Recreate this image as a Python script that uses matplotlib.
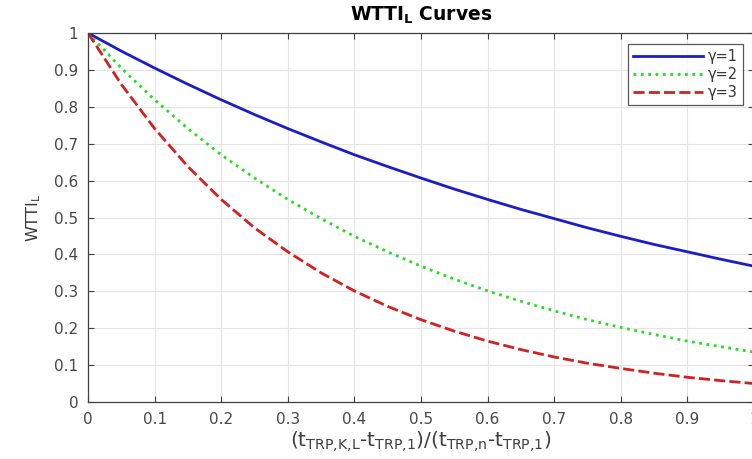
import matplotlib
matplotlib.use("Agg")
import matplotlib.pyplot as plt
from matplotlib.ticker import FixedLocator, FuncFormatter

plt.rcParams['font.family'] = ['DejaVu Sans']
plt.rcParams['mathtext.fontset'] = 'dejavusans'

x_vals = [0.00, 0.05, 0.10, 0.15, 0.20, 0.25, 0.30, 0.35, 0.40, 0.45, 0.50,
          0.55, 0.60, 0.65, 0.70, 0.75, 0.80, 0.85, 0.90, 0.95, 1.00]
gamma1 = [1.00, 0.951, 0.905, 0.861, 0.819, 0.779, 0.741, 0.705, 0.670, 0.638, 0.607,
          0.577, 0.549, 0.522, 0.497, 0.472, 0.449, 0.427, 0.407, 0.387, 0.368]
gamma2 = [1.00, 0.905, 0.819, 0.741, 0.670, 0.607, 0.549, 0.497, 0.449, 0.407, 0.368,
          0.333, 0.301, 0.273, 0.247, 0.223, 0.202, 0.183, 0.165, 0.150, 0.135]
gamma3 = [1.00, 0.861, 0.741, 0.638, 0.549, 0.472, 0.407, 0.350, 0.301, 0.259, 0.223,
          0.192, 0.165, 0.142, 0.122, 0.105, 0.091, 0.078, 0.067, 0.058, 0.050]
series_labels = ['γ=1', 'γ=2', 'γ=3']
x_ticks = [0, 0.1, 0.2, 0.3, 0.4, 0.5, 0.6, 0.7, 0.8, 0.9, 1.0]
y_ticks = [0, 0.1, 0.2, 0.3, 0.4, 0.5, 0.6, 0.7, 0.8, 0.9, 1.0]

fig = plt.figure(figsize=(7.52, 4.59), dpi=100)
ax = fig.add_axes([88/752, 1-402/459, (754-88)/752, (402-33)/459])

ax.plot(x_vals, gamma1, color='#1c1cc8', lw=2.0, ls='-', label=series_labels[0])
ax.plot(x_vals, gamma2, color='#22dd22', lw=2.0, ls=':', label=series_labels[1])
ax.plot(x_vals, gamma3, color='#d42020', lw=2.0, ls='--', dashes=(4, 1.5), label=series_labels[2])

ax.set_xlim(0, 1)
ax.set_ylim(0, 1)
ax.xaxis.set_major_locator(FixedLocator(x_ticks))
ax.yaxis.set_major_locator(FixedLocator(y_ticks))
fmt = FuncFormatter(lambda v, p: '%g' % round(v, 2))
ax.xaxis.set_major_formatter(fmt)
ax.yaxis.set_major_formatter(fmt)
ax.tick_params(direction='in', top=True, right=True, length=4, width=0.8,
               labelsize=11, colors='#404040', labelcolor='#484848', pad=7)
for s in ax.spines.values():
    s.set_color('#404040')
    s.set_linewidth(0.9)
ax.grid(True, color='#e4e4e4', lw=0.8)
ax.set_axisbelow(True)

ax.set_title(r'WTTI$_\mathbf{L}$ Curves', fontsize=13.5, fontweight='bold', pad=9)
hy = '\u2010'
xlab = (r'$(\mathrm{t}_{\mathrm{TRP{,}K{,}L}}\mathrm{' + hy + r't}_{\mathrm{TRP{,}1}})\mathrm{/(t}_{\mathrm{TRP{,}n}}\mathrm{'
        + hy + r't}_{\mathrm{TRP{,}1}})$')
ax.set_xlabel(xlab, fontsize=14.5, color='#404040', labelpad=2)
ax.set_ylabel(r'WTTI$_\mathrm{L}$', fontsize=11.5, color='#383838', labelpad=8)

leg = ax.legend(loc='upper right', fontsize=10.5, frameon=True, fancybox=False,
                borderpad=0.35, handlelength=4.8, handletextpad=0.3, labelspacing=0.2,
                borderaxespad=0, bbox_to_anchor=(0.9835, 0.970))
leg.get_frame().set_edgecolor('#303030')
leg.get_frame().set_linewidth(0.9)
for t in leg.get_texts():
    t.set_color('#383838')

fig.savefig('out.png', dpi=100)
